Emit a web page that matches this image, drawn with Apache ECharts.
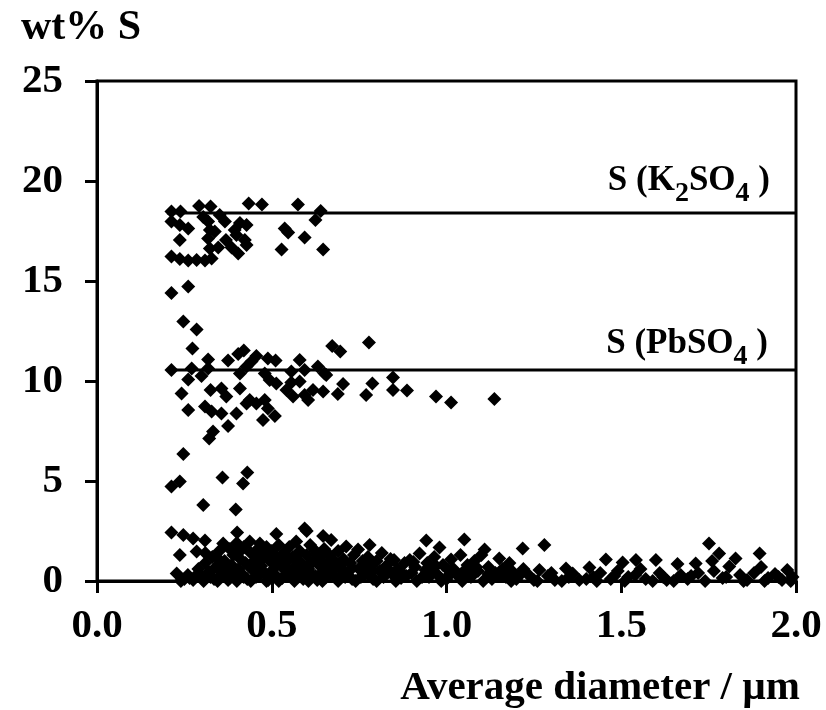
<!DOCTYPE html>
<html>
<head>
<meta charset="utf-8">
<script src="https://cdn.jsdelivr.net/npm/echarts@6/dist/echarts.min.js"></script>
<style>
  html, body { margin: 0; padding: 0; background: #fff; }
  #chart { width: 826px; height: 710px; }
</style>
</head>
<body>
<div id="chart"></div>
<script>
// Sulfur content of individual particles versus average diameter.

// Particles near the K2SO4 composition
const k2so4Group = [
  [0.213,18.47],[0.239,18.47],[0.292,18.75],[0.325,18.72],[0.434,18.88],[0.472,18.83],
  [0.575,18.83],[0.640,18.50],[0.625,18.05],[0.213,17.97],[0.237,17.80],[0.261,17.63],
  [0.304,18.20],[0.318,17.97],[0.351,18.30],[0.366,17.97],[0.409,17.90],[0.428,17.80],
  [0.323,17.55],[0.337,17.47],[0.394,17.55],[0.537,17.63],[0.547,17.42],[0.594,17.18],
  [0.237,17.05],[0.318,17.13],[0.369,17.05],[0.399,17.30],[0.423,17.05],[0.385,16.68],
  [0.404,16.38],[0.428,16.80],[0.347,16.68],[0.323,16.63],[0.528,16.58],[0.647,16.58],
  [0.213,16.22],[0.237,16.10],[0.261,16.02],[0.285,16.05],[0.309,16.02],[0.328,16.13],
  [0.261,14.72],[0.213,14.40]
];

// Particles near the PbSO4 composition
const pbso4Group = [
  [0.247,12.97],[0.285,12.58],[0.273,11.63],[0.318,11.08],[0.375,11.02],[0.404,11.35],
  [0.420,11.52],[0.456,11.25],[0.442,10.97],[0.489,11.13],[0.511,11.02],[0.580,11.05],
  [0.673,11.75],[0.696,11.47],[0.778,11.92],[0.213,10.55],[0.271,10.63],[0.318,10.63],
  [0.299,10.25],[0.261,10.08],[0.409,10.38],[0.428,10.72],[0.480,10.38],[0.494,10.05],
  [0.513,9.88],[0.556,10.47],[0.594,10.55],[0.632,10.72],[0.656,10.30],[0.651,10.38],
  [0.556,9.92],[0.580,9.97],[0.704,9.85],[0.242,9.38],[0.325,9.55],[0.356,9.63],
  [0.370,9.22],[0.409,9.63],[0.542,9.55],[0.561,9.22],[0.594,9.30],[0.618,9.55],
  [0.647,9.47],[0.689,9.35],[0.604,9.05],[0.788,9.88],[0.847,10.18],[0.847,9.55],
  [0.887,9.52],[0.770,9.30],[0.970,9.22],[1.013,8.92],[1.137,9.10],[0.261,8.55],
  [0.309,8.72],[0.328,8.47],[0.356,8.38],[0.399,8.38],[0.428,8.88],[0.437,9.05],
  [0.456,8.88],[0.480,9.05],[0.489,8.63],[0.509,8.25],[0.475,8.05],[0.375,7.75],
  [0.332,7.47],[0.321,7.13],[0.247,6.35]
];

// Scattered particles between the two groups
const midGroup = [
  [0.213,4.72],[0.237,4.97],[0.359,5.18],[0.430,5.42],[0.418,4.88],[0.304,3.80],[0.397,3.58]
];

// Sulfur-poor particles
const lowGroup = [
  [0.213,2.42],[0.247,2.30],[0.275,2.13],[0.309,2.02],[0.237,1.30],[0.285,1.47],[0.228,0.38],
  [0.250,0.10],[0.260,0.30],[0.275,0.05],[0.290,0.60],[0.300,0.20],[0.310,0.90],[0.320,0.45],
  [0.330,1.20],[0.335,0.10],[0.340,0.70],[0.350,1.50],[0.355,0.30],[0.361,1.88],[0.365,1.00],
  [0.370,0.55],[0.375,0.05],[0.380,1.60],[0.385,0.80],[0.390,1.30],[0.395,0.25],[0.401,2.42],
  [0.400,1.90],[0.405,0.60],[0.410,1.10],[0.415,0.35],[0.420,1.70],[0.425,0.90],[0.430,0.10],
  [0.437,1.97],[0.440,1.40],[0.445,0.55],[0.450,1.00],[0.455,0.20],[0.460,1.60],[0.466,1.88],
  [0.470,0.75],[0.475,1.25],[0.480,0.40],[0.485,1.70],[0.490,0.05],[0.495,1.00],[0.500,1.50],
  [0.505,0.60],[0.513,2.35],[0.510,0.30],[0.515,1.20],[0.520,1.80],[0.525,0.80],[0.530,0.15],
  [0.535,1.40],[0.540,0.50],[0.545,1.00],[0.550,1.70],[0.555,0.25],[0.560,1.20],[0.565,0.70],
  [0.570,1.97],[0.575,0.40],[0.580,1.50],[0.585,0.90],[0.590,0.10],[0.594,2.63],[0.600,2.50],
  [0.600,1.30],[0.605,0.60],[0.610,1.80],[0.615,0.30],[0.620,1.00],[0.625,1.50],[0.630,0.05],
  [0.635,0.80],[0.640,1.20],[0.647,2.25],[0.645,0.45],[0.650,1.60],[0.655,0.20],[0.660,0.90],
  [0.670,2.05],[0.665,1.30],[0.675,0.55],[0.680,1.00],[0.685,0.15],[0.690,1.50],[0.695,0.70],
  [0.700,0.30],[0.705,1.10],[0.713,1.72],[0.720,0.50],[0.725,0.90],[0.730,0.10],[0.735,1.30],
  [0.747,1.58],[0.750,0.60],[0.755,0.20],[0.760,1.00],[0.770,0.40],[0.780,1.80],[0.775,1.20],
  [0.785,0.75],[0.790,0.10],[0.800,1.00],[0.810,0.50],[0.815,1.40],[0.820,0.20],[0.830,0.80],
  [0.840,1.10],[0.847,0.30],[0.850,1.05],[0.860,0.60],[0.870,0.15],[0.880,0.90],[0.895,1.05],
  [0.900,0.40],[0.910,0.70],[0.923,1.38],[0.930,0.20],[0.942,2.02],[0.945,0.90],[0.955,0.50],
  [0.965,1.20],[0.980,1.68],[0.975,0.30],[0.990,0.80],[1.000,0.10],[1.013,1.08],[1.020,0.60],
  [1.030,0.30],[1.040,1.30],[1.051,2.08],[1.060,0.80],[1.070,0.20],[1.080,1.00],[1.090,0.50],
  [1.100,1.30],[1.109,1.58],[1.120,0.70],[1.130,0.10],[1.140,0.40],[1.151,1.13],[1.160,0.60],
  [1.170,0.20],[1.180,0.90],[1.190,0.45],[1.200,0.10],[1.218,1.63],[1.220,0.60],[1.235,0.30],
  [1.250,0.05],[1.266,0.55],[1.280,1.80],[1.290,0.25],[1.310,0.05],[1.342,0.63],[1.350,0.20],
  [1.361,0.38],[1.380,0.05],[1.409,0.68],[1.420,0.20],[1.440,0.40],[1.456,1.08],[1.470,0.10],
  [1.490,0.50],[1.504,0.92],[1.520,0.20],[1.542,1.05],[1.555,0.60],[1.570,0.10],[1.599,1.05],
  [1.610,0.40],[1.630,0.05],[1.661,0.85],[1.670,0.30],[1.690,0.10],[1.713,0.88],[1.720,0.40],
  [1.751,1.88],[1.760,1.00],[1.765,0.50],[1.780,1.38],[1.790,0.15],[1.809,0.72],[1.827,1.13],
  [1.840,0.30],[1.860,0.05],[1.880,0.40],[1.896,1.38],[1.900,0.70],[1.920,0.15],[1.940,0.35],
  [1.960,0.05],[1.975,0.55],[1.990,0.20],
  // particles lying close to zero sulfur
  [0.240,0.00],[0.265,0.15],[0.285,0.30],[0.305,0.00],[0.325,0.20],[0.345,0.00],[0.360,0.40],
  [0.380,0.15],[0.400,0.00],[0.420,0.20],[0.440,0.00],[0.465,0.30],[0.485,0.00],[0.500,0.20],
  [0.520,0.00],[0.545,0.30],[0.565,0.00],[0.585,0.35],[0.605,0.00],[0.625,0.25],[0.645,0.00],
  [0.665,0.30],[0.690,0.00],[0.710,0.20],[0.740,0.00],[0.765,0.30],[0.800,0.00],[0.825,0.40],
  [0.855,0.00],[0.885,0.25],[0.915,0.00],[0.950,0.20],[0.985,0.00],[1.010,0.35],[1.045,0.00],
  [1.075,0.45],[1.105,0.00],[1.150,0.25],[1.185,0.00],[1.210,0.30],[1.260,0.00],[1.300,0.40],
  [1.330,0.00],[1.400,0.10],[1.430,0.00],[1.480,0.25],[1.510,0.00],[1.540,0.30],[1.590,0.00],
  [1.620,0.20],[1.650,0.00],[1.700,0.25],[1.740,0.00],[1.800,0.20],[1.850,0.00],[1.910,0.00],
  [1.950,0.20],[1.985,0.00],
  // the dense sub-micron band
  [0.310,1.40],[0.345,1.15],[0.355,0.85],[0.390,0.55],[0.410,1.50],[0.435,0.75],[0.450,1.35],
  [0.470,1.05],[0.490,1.35],[0.505,0.90],[0.530,1.10],[0.550,0.45],[0.570,1.25],[0.590,0.65],
  [0.610,0.85],[0.630,1.30],[0.650,0.75],[0.670,0.45],[0.700,0.85],[0.730,0.65],[0.760,0.80],
  [0.790,0.50],[0.835,0.55],[0.870,0.45],[0.905,0.95],[0.940,0.55],[0.970,0.75],[1.005,0.55],
  [1.050,0.50],[1.085,0.70],[1.120,0.35],[1.175,0.55]
];

// Theoretical sulfur content of the reference salts
const refStart = 0.2;
const refEnd = 2.0;
const k2so4S = 18.4;
const pbso4S = 10.55;

// Axis ticks
const xTicks = [0.0, 0.5, 1.0, 1.5, 2.0];
const yTicks = [0, 5, 10, 15, 20, 25];

const FONT = '"Liberation Serif", "Times New Roman", serif';

const chart = echarts.init(document.getElementById('chart'), null, { renderer: 'canvas' });

const pointSeries = (data) => ({
  type: 'scatter',
  data: data,
  symbol: 'diamond',
  symbolSize: 14,
  itemStyle: { color: '#000', opacity: 1 },
  silent: true,
  z: 3
});

const refSeries = (y) => ({
  type: 'line',
  data: [[refStart, y], [refEnd, y]],
  symbol: 'none',
  lineStyle: { color: '#000', width: 3 },
  silent: true,
  z: 2
});

const subRich = {
  n: { fontFamily: FONT, fontWeight: 'bold', fontSize: 35, color: '#000', lineHeight: 37, verticalAlign: 'top' },
  s: { fontFamily: FONT, fontWeight: 'bold', fontSize: 28, color: '#000', lineHeight: 28, padding: [17, 0, 0, 0], verticalAlign: 'top' }
};

chart.setOption({
  animation: false,
  backgroundColor: '#fff',
  grid: {
    left: 97, right: 30, top: 81, bottom: 129,
    show: true, borderColor: '#000', borderWidth: 3, backgroundColor: 'transparent'
  },
  xAxis: {
    type: 'value',
    min: xTicks[0],
    max: xTicks[xTicks.length - 1],
    interval: 0.5,
    axisLine: { show: true, lineStyle: { color: '#000', width: 3 } },
    axisTick: { show: true, inside: false, length: 12, lineStyle: { color: '#000', width: 3 } },
    splitLine: { show: false },
    axisLabel: {
      margin: 25,
      color: '#000',
      fontFamily: FONT,
      fontWeight: 'bold',
      fontSize: 41,
      formatter: (v) => v.toFixed(1)
    }
  },
  yAxis: {
    type: 'value',
    min: yTicks[0],
    max: yTicks[yTicks.length - 1],
    interval: 5,
    axisLine: { show: true, lineStyle: { color: '#000', width: 3 } },
    axisTick: { show: true, inside: false, length: 12, lineStyle: { color: '#000', width: 3 } },
    splitLine: { show: false },
    axisLabel: {
      margin: 34,
      color: '#000',
      fontFamily: FONT,
      fontWeight: 'bold',
      fontSize: 41
    }
  },
  series: [
    refSeries(k2so4S),
    refSeries(pbso4S),
    pointSeries(k2so4Group),
    pointSeries(pbso4Group),
    pointSeries(midGroup),
    pointSeries(lowGroup)
  ],
  graphic: [
    {
      type: 'text', left: 21, top: 7,
      style: { text: 'wt% S', fontFamily: FONT, fontWeight: 'bold', fontSize: 42, fill: '#000' }
    },
    {
      type: 'text', right: 26, top: 668,
      style: { text: 'Average diameter / µm', fontFamily: FONT, fontWeight: 'bold', fontSize: 41, fill: '#000' }
    },
    {
      type: 'text', right: 56, top: 163,
      style: { text: '{n|S (K}{s|2}{n|SO}{s|4}{n| )}', rich: subRich }
    },
    {
      type: 'text', right: 58, top: 326,
      style: { text: '{n|S (PbSO}{s|4}{n| )}', rich: subRich }
    }
  ]
});
</script>
</body>
</html>
